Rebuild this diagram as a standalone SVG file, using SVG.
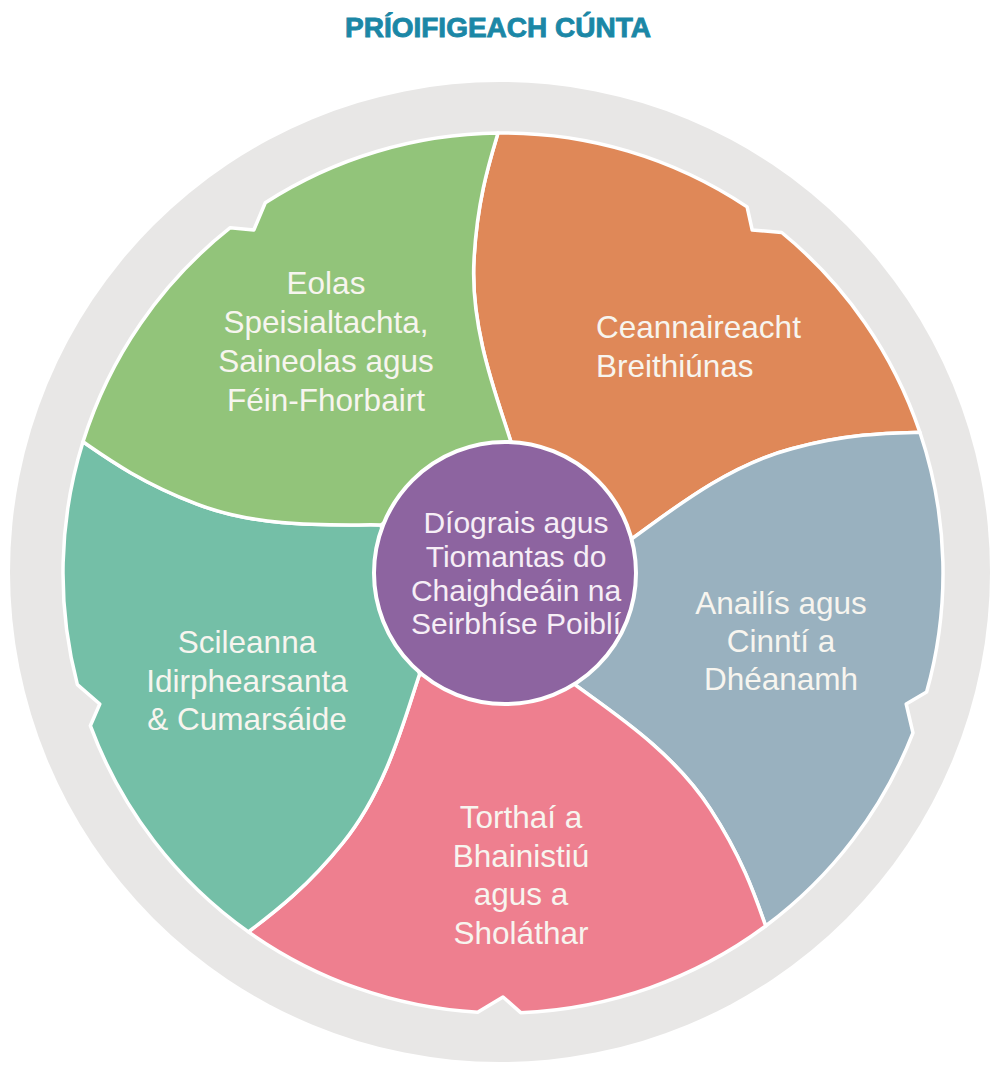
<svg xmlns="http://www.w3.org/2000/svg" width="996" height="1070" viewBox="0 0 996 1070">
<style>
.seg{stroke:#ffffff;stroke-width:3.5;stroke-linejoin:round}
.lbl{font-family:"Liberation Sans",Arial,sans-serif;font-size:31.5px;fill:#f7f5ef}
.mid{text-anchor:middle}
.ctr{font-family:"Liberation Sans",Arial,sans-serif;font-size:30px;fill:#f6eef6;text-anchor:middle}
.title{font-family:"Liberation Sans",Arial,sans-serif;font-size:28px;font-weight:bold;fill:#1b87a6;stroke:#1b87a6;stroke-width:0.9;text-anchor:middle}
</style>
<defs>
<path id="seg" d="M 511,442 C 498,400 470,330 474,260 C 477,200 490,160 498,133 A 440 440 0 0 1 747.1,206.9 L 752.2,230 L 781.7,232.5 A 440 440 0 0 1 919.9,432.3 C 891.8,433 849.7,433 791.7,448.7 C 723.9,466.5 666,514.8 630.1,540.1 Z"/>
</defs>
<rect width="996" height="1070" fill="#ffffff"/>
<text class="title" x="498" y="37">PRÍOIFIGEACH CÚNTA</text>
<circle id="ring" cx="500" cy="572" r="490" fill="#e8e7e6"/>
<g id="connectors"></g>
<g id="node-ceannaireacht">
<use href="#seg" class="seg" fill="#df8858"/>
<text class="lbl" x="596" y="338">Ceannaireacht</text>
<text class="lbl" x="596" y="377">Breithiúnas</text>
</g>
<g id="node-anailis">
<use href="#seg" class="seg" fill="#99b1bf" transform="rotate(72 503 573)"/>
<text class="lbl mid" x="781" y="614">Anailís agus</text>
<text class="lbl mid" x="781" y="652">Cinntí a</text>
<text class="lbl mid" x="781" y="690">Dhéanamh</text>
</g>
<g id="node-torthai">
<use href="#seg" class="seg" fill="#ee7f8f" transform="rotate(144 503 573)"/>
<text class="lbl mid" x="521" y="828">Torthaí a</text>
<text class="lbl mid" x="521" y="867">Bhainistiú</text>
<text class="lbl mid" x="521" y="905">agus a</text>
<text class="lbl mid" x="521" y="944">Sholáthar</text>
</g>
<g id="node-scileanna">
<use href="#seg" class="seg" fill="#74bfa7" transform="rotate(216 503 573)"/>
<text class="lbl mid" x="247" y="653">Scileanna</text>
<text class="lbl mid" x="247" y="692">Idirphearsanta</text>
<text class="lbl mid" x="247" y="730">&amp; Cumarsáide</text>
</g>
<g id="node-eolas">
<use href="#seg" class="seg" fill="#92c47a" transform="rotate(288 503 573)"/>
<text class="lbl mid" x="326" y="294">Eolas</text>
<text class="lbl mid" x="326" y="333">Speisialtachta,</text>
<text class="lbl mid" x="326" y="372">Saineolas agus</text>
<text class="lbl mid" x="326" y="411">Féin-Fhorbairt</text>
</g>
<g id="node-center">
<circle cx="505" cy="573" r="131" fill="#8d64a0" stroke="#ffffff" stroke-width="4"/>
<text class="ctr" x="516" y="533">Díograis agus</text>
<text class="ctr" x="516" y="567">Tiomantas do</text>
<text class="ctr" x="516" y="601">Chaighdeáin na</text>
<text class="ctr" x="516" y="634">Seirbhíse Poiblí</text>
</g>
</svg>
